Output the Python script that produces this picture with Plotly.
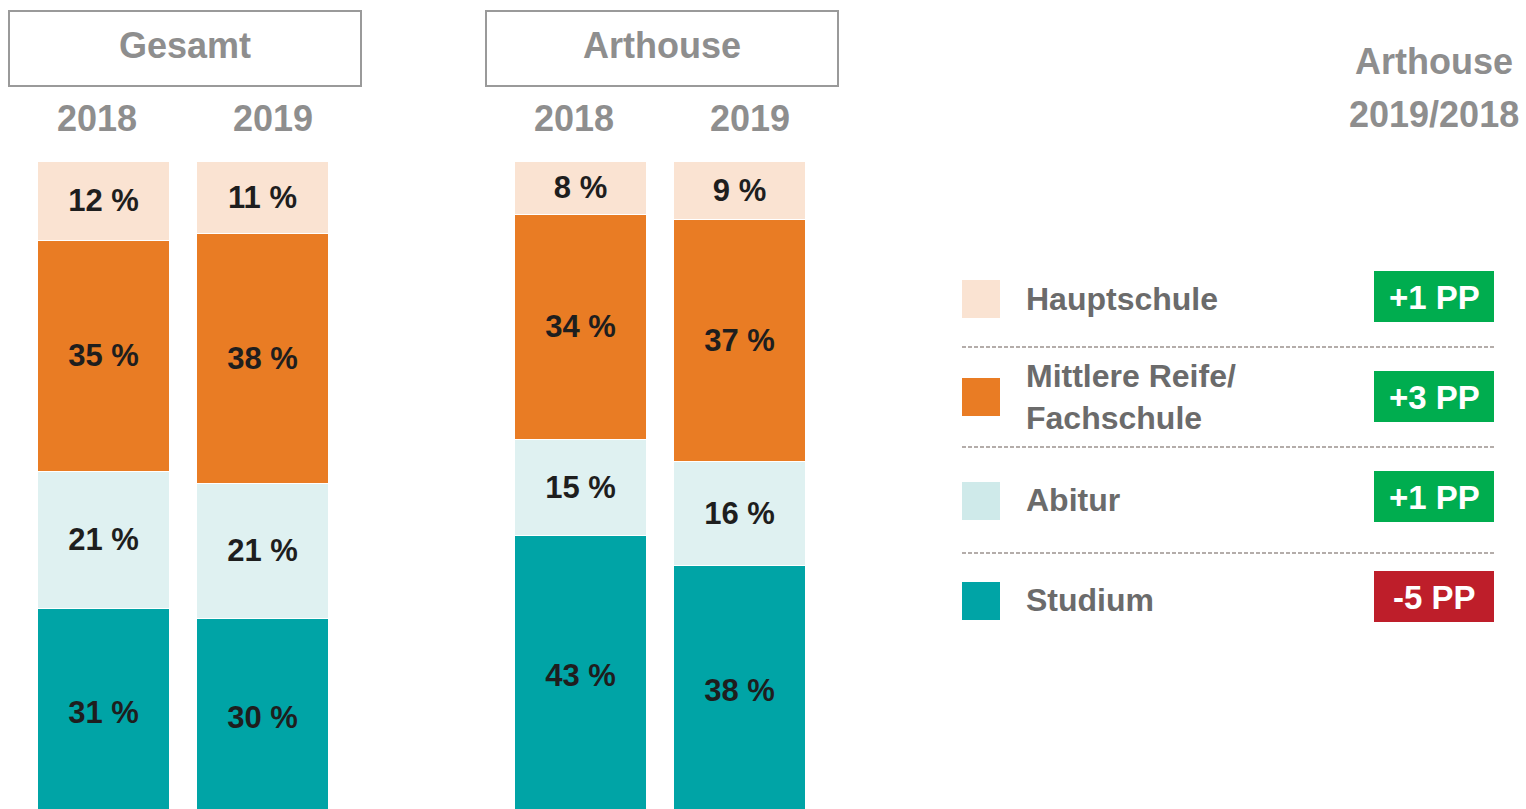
import plotly.graph_objects as go

W, H = 1526, 809

# ---- data ----
categories = ["Gesamt 2018", "Gesamt 2019", " ", "Arthouse 2018", "Arthouse 2019"]
bar_cats = ["Gesamt 2018", "Gesamt 2019", "Arthouse 2018", "Arthouse 2019"]
years = ["2018", "2019", "2018", "2019"]
series = ["Studium", "Abitur", "Mittlere Reife/<br>Fachschule", "Hauptschule"]
studium = [31.7, 30.2, 42.8, 38.2]
abitur = [20.9, 20.6, 14.7, 15.9]
mittlere = [35.3, 38.2, 34.4, 36.9]
haupt = [12.1, 11.0, 8.1, 9.0]
studium_lbl = ["31 %", "30 %", "43 %", "38 %"]
abitur_lbl = ["21 %", "21 %", "15 %", "16 %"]
mittlere_lbl = ["35 %", "38 %", "34 %", "37 %"]
haupt_lbl = ["12 %", "11 %", "8 %", "9 %"]
colors = ["#00a4a6", "#dff1f1", "#e97c24", "#fae3d2"]
groups = ["Gesamt", "Arthouse"]
legend_order = ["Hauptschule", "Mittlere Reife/<br>Fachschule", "Abitur", "Studium"]
changes_pp = [1, 3, 1, -5]  # Arthouse 2019 vs 2018

FONT = "Liberation Sans, Arial, sans-serif"
GRAY = "#8e8e8e"


def px(x):
    return x / W


def py(y):
    return 1 - y / H


fig = go.Figure()
vals = [studium, abitur, mittlere, haupt]
lbls = [studium_lbl, abitur_lbl, mittlere_lbl, haupt_lbl]
for name, v, t, c in zip(series, vals, lbls, colors):
    fig.add_trace(go.Bar(
        x=bar_cats, y=v, name=name, text=t, texttemplate="%{text}",
        textposition="inside", insidetextanchor="middle", textangle=0,
        constraintext="none",
        textfont=dict(family=FONT, size=31, color="#1e1e1e", weight="bold"),
        marker=dict(color=c, line=dict(color="white", width=1)),
        showlegend=False, hoverinfo="skip",
    ))

fig.update_layout(
    width=W, height=H, barmode="stack", bargap=0.176,
    margin=dict(l=0, r=0, t=0, b=0),
    paper_bgcolor="white", plot_bgcolor="white",
    xaxis=dict(domain=[px(24), px(819)], type="category",
               categoryorder="array", categoryarray=categories,
               range=[-0.5, 4.5], showticklabels=False, showgrid=False,
               zeroline=False, showline=False, fixedrange=True),
    yaxis=dict(domain=[0, py(161)], range=[1.07, 100], showticklabels=False,
               showgrid=False, zeroline=False, showline=False, fixedrange=True),
)

shapes = []
annotations = []

# group header boxes
box_x = [(9, 361), (486, 838)]
for g, (x0, x1) in zip(groups, box_x):
    shapes.append(dict(type="rect", xref="paper", yref="paper",
                       x0=px(x0), x1=px(x1), y0=py(86), y1=py(11),
                       line=dict(color="#9a9a9a", width=2), fillcolor="white"))
    annotations.append(dict(text=g, xref="paper", yref="paper",
                            x=px((x0 + x1) / 2), y=py(46), showarrow=False,
                            xanchor="center", yanchor="middle",
                            font=dict(family=FONT, size=36, color=GRAY, weight="bold")))

# year labels
year_shift = [-7, 10, -7, 10]
for cat, yr, sh in zip(bar_cats, years, year_shift):
    annotations.append(dict(text=yr, xref="x", yref="paper", x=cat, y=py(119),
                            xshift=sh, showarrow=False, xanchor="center", yanchor="middle",
                            font=dict(family=FONT, size=36, color=GRAY, weight="bold")))

# right header
for txt, yy in [("Arthouse", 62), ("2019/2018", 114)]:
    annotations.append(dict(text=txt, xref="paper", yref="paper", x=px(1434), y=py(yy),
                            showarrow=False, xanchor="center", yanchor="middle",
                            font=dict(family=FONT, size=36, color=GRAY, weight="bold")))

# legend with change badges
row_y = [299, 397, 501, 601]
badge_y = [296.5, 396.5, 496.5, 596.5]
color_of = dict(zip(series, colors))
color_of["Abitur"] = "#cfeaea"
for name, yc, by, ch in zip(legend_order, row_y, badge_y, changes_pp):
    shapes.append(dict(type="rect", xref="paper", yref="paper",
                       x0=px(962), x1=px(1000), y0=py(yc + 19), y1=py(yc - 19),
                       line=dict(width=0), fillcolor=color_of[name]))
    annotations.append(dict(text=name, xref="paper", yref="paper", x=px(1024),
                            y=py(yc - 1 if name == "Abitur" or name == "Studium" else yc),
                            showarrow=False, xanchor="left", yanchor="middle", align="left",
                            font=dict(family=FONT, size=32, color="#6b6b6b", weight="bold")))
    badge = "#00ad4f" if ch > 0 else "#be1e2a"
    shapes.append(dict(type="rect", xref="paper", yref="paper",
                       x0=px(1374), x1=px(1494), y0=py(by + 25.5), y1=py(by - 25.5),
                       line=dict(width=0), fillcolor=badge))
    annotations.append(dict(text=f"{ch:+d} PP", xref="paper", yref="paper",
                            x=px(1434), y=py(by + 1), showarrow=False,
                            xanchor="center", yanchor="middle",
                            font=dict(family=FONT, size=33, color="white", weight="bold")))

# dashed separators
for yy in [347, 447, 553]:
    shapes.append(dict(type="line", xref="paper", yref="paper",
                       x0=px(962), x1=px(1494), y0=py(yy), y1=py(yy),
                       line=dict(color="#9c938e", width=1.5, dash="4px,2px")))

fig.update_layout(shapes=shapes, annotations=annotations)
fig.write_html(
    "out.html",
    config={"displayModeBar": False},
    post_script="document.body.style.margin='0';document.body.style.overflow='hidden';",
)
